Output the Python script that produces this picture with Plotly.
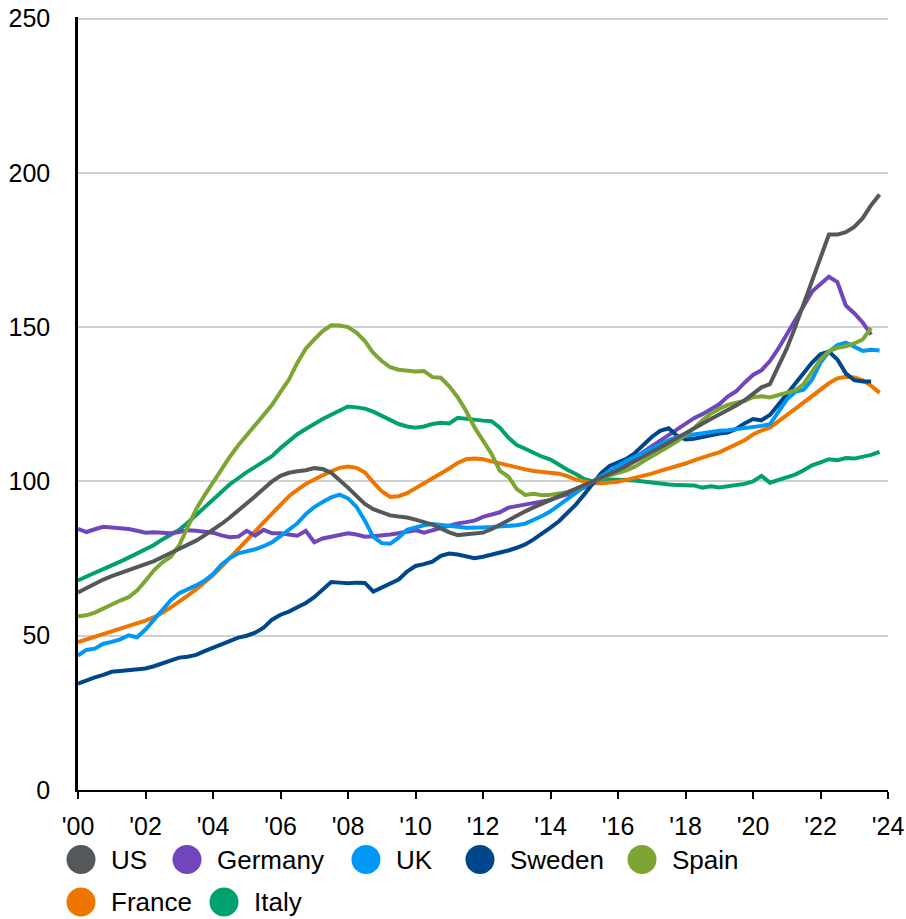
import numpy as np
import plotly.graph_objects as go

# quarterly house price index, 2015 = 100
quarters = 2000 + np.arange(96) * 0.25

us = [64, 65.5, 67, 68.2, 69.3, 70.3, 71.2, 72, 73, 74.2, 75.5, 76.8,
      78, 79.3, 80.8, 82.5, 84.3, 86.2, 88.3, 90.5, 92.8, 95.2, 97.6, 100,
      101.8, 102.8, 103.3, 103.6, 104.3, 104, 102.8, 100.5, 98, 95.3, 92.7, 91,
      90, 89, 88.6, 88.3, 87.6, 86.8, 86, 84.8, 83.5, 82.6, 82.8, 83,
      83.4, 84.5, 86, 87.4, 89, 90.3, 91.6, 92.8, 94, 95.3, 96.5, 97.6,
      98.8, 100, 101, 102.3, 103.6, 105, 106.4, 108, 109.5, 111, 112.6, 114.2,
      115.8, 117.3, 118.7, 120.2, 121.6, 123.1, 124.6, 126.3, 128.3, 130.5, 131.5, 137,
      143, 150, 157.5, 165, 173, 180, 180, 180.8, 182.5, 185.3, 189.5, 193]

germany = [84.6, 83.6, 84.5, 85.3, 85.1, 84.9, 84.6, 84, 83.4, 83.5, 83.3, 83.2,
           83.6, 84.2, 84, 83.6, 83.4, 82.5, 81.9, 82.1, 84, 82.4, 84.3, 83.2,
           83.2, 82.8, 82.4, 84, 80.3, 81.5, 82, 82.4, 83.2, 82.8, 82.1, 82.2,
           82.4, 82.8, 83.2, 83.8, 84.2, 83.4, 84.2, 84.8, 85.6, 86.4, 86.8, 87.3,
           88.5, 89.2, 90, 91.5, 92, 92.4, 93, 93.5, 94, 95, 95.8, 96.7,
           98, 99.6, 101, 103.2, 104.7, 106.3, 107.6, 109.6, 111.6, 113.2, 115, 116.9,
           118.5, 120.5, 121.8, 123.4, 125, 127.5, 129.2, 132, 134.5, 136, 139, 143,
           147.5, 152, 157, 161.5, 164, 166.3, 164.6, 157, 154.5, 151.5, 147.6]

uk = [43.6, 45.4, 45.8, 47.4, 48, 48.8, 50.1, 49.5, 52, 55.3, 58.2, 61.5,
      63.8, 65, 66.3, 67.8, 70, 73, 75.2, 76.7, 77.3, 78, 79, 80.3,
      82.3, 84.2, 86.4, 89.4, 91.7, 93.3, 94.8, 95.7, 94.5, 91.8, 87.3, 82,
      80, 79.8, 81.8, 84.3, 85.2, 85.8, 86.2, 85.8, 85.4, 85.3, 85, 84.9,
      85.1, 85.2, 85.3, 85.5, 85.8, 86.3, 87.4, 88.8, 90.3, 92.2, 94.3, 96.3,
      98.3, 100, 101.6, 103.3, 105, 106.7, 108, 109.4, 110.8, 112.2, 113.3, 114.4,
      114.8, 115.3, 115.8, 116.3, 116.4, 116.6, 116.9, 117.3, 117.8, 118, 118.5, 122.5,
      126.5, 129, 129.7, 133, 138.5, 142, 144.2, 145, 143.5, 142.3, 142.7, 142.4]

sweden = [34.5, 35.6, 36.5, 37.3, 38.3, 38.6, 38.8, 39, 39.4, 40.1, 41, 42.2,
          42.9, 43.2, 43.8, 45, 46.1, 47.3, 48.2, 49.4, 50, 51, 52.6, 55.2,
          56.8, 57.8, 59.2, 60.6, 62.5, 64.8, 67.4, 67.2, 67, 67.2, 67.1, 64.3,
          65.6, 66.7, 68.2, 70.8, 72.6, 73.2, 74, 75.9, 76.6, 76.3, 75.8, 75.1,
          75.6, 76.2, 76.9, 77.6, 78.5, 79.6, 81.2, 83, 85, 87.1, 89.6, 92.5,
          95.8, 99.5, 102.7, 105, 106.2, 107.3, 109.2, 111.8, 114.4, 116.4, 117.2, 114.8,
          113.6, 113.8, 114.4, 115.2, 115.5, 115.8, 117, 118.8, 120.2, 119.8, 121.5, 124.8,
          128.2, 131.8, 135.3, 138.5, 141.2, 142.1, 139.5, 135, 132.8, 132.4, 132.4]

spain = [56.3, 56.6, 57.5, 58.9, 60.2, 61.4, 62.5, 64.6, 67.8, 71.2, 73.8, 75.6,
         79.3, 85.5, 91, 95.5, 99.8, 104, 108, 111.7, 115, 118, 121.5, 124.8,
         129, 133, 138.5, 143, 146, 148.7, 150.6, 150.5, 150, 148.2, 145.5, 141.6,
         139, 137, 136.2, 135.8, 135.6, 135.8, 133.8, 133.6, 130.8, 127.3, 122.8, 117.5,
         113.5, 109, 103.4, 101.6, 97.5, 95.6, 96, 95.5, 95.7, 96, 96.5, 97.5,
         98.8, 100, 101, 102, 102.8, 103.6, 104.8, 106.5, 108, 109.5, 111.3, 113,
         115, 117.2, 119.8, 122, 123.5, 124.8, 125.5, 126.1, 127.3, 127.6, 127.2, 128,
         128.6, 129.5, 131.5, 135.5, 139.6, 142.2, 143.3, 143.8, 144.7, 146, 149.7]

france = [47.9, 48.7, 49.6, 50.4, 51.4, 52.3, 53.1, 53.9, 54.9, 56, 57.4, 59.2,
          61.3, 63, 65, 67.2, 69.6, 72.3, 75.1, 78, 80.8, 83.8, 86.7, 89.6,
          92.5, 95.2, 97.3, 99.2, 100.6, 102, 103.3, 104.4, 104.8, 104.4, 102.9, 99.7,
          96.8, 95, 95.2, 96.2, 97.8, 99.5, 100.8, 102.5, 104.2, 106, 107.2, 107.4,
          107.2, 106.5, 105.8, 105, 104.4, 103.9, 103.4, 103.2, 103, 102.5, 101.7, 100.6,
          100, 99.4, 99.4, 99.5, 99.9, 100.5, 101.1, 101.8, 102.5, 103.4, 104.2, 104.8,
          105.8, 106.8, 107.8, 108.6, 109.4, 110.7, 112, 113.3, 115.2, 116.5, 117.4, 119.6,
          121.5, 123.5, 125.6, 127.8, 129.8, 131.8, 133.4, 133.9, 133.7, 132.8, 131, 128.7]

italy = [67.9, 69.3, 70.4, 71.6, 72.7, 74, 75.3, 76.6, 78, 79.4, 81.2, 82.6,
         84.3, 86.6, 89, 91.5, 94.2, 96.6, 99.1, 101.2, 103, 104.7, 106.3, 108.2,
         110.8, 113, 115.3, 117, 118.7, 120.2, 121.6, 123, 124.3, 124, 123.6, 122.6,
         121.3, 120, 118.6, 117.8, 117.4, 117.8, 118.6, 119, 118.8, 120.6, 120.2, 119.8,
         119.7, 119.5, 117.4, 114.2, 111.8, 110.6, 109.3, 108, 107.1, 105.3, 103.8, 102.4,
         100.8, 100, 100.4, 100.5, 100.5, 100.5, 100.3, 100, 99.6, 99.2, 99, 98.8,
         98.9, 98.7, 98, 98.4, 98, 98.3, 98.6, 99.2, 100, 101.8, 99.6, 100.5,
         101.4, 102.2, 103.6, 105.2, 106.2, 107.2, 106.9, 107.6, 107.4, 107.9, 108.6, 109.6]

names = ["US", "Germany", "UK", "Sweden", "Spain", "France", "Italy"]
series = [us, germany, uk, sweden, spain, france, italy]
colors = ["#54585b", "#7146bc", "#0098f5", "#00468b", "#7ca532", "#ee7600", "#00a06f"]
draw_order = ["Italy", "France", "Germany", "Sweden", "UK", "Spain", "US"]

tick_years = list(range(2000, 2025, 2))
tick_text = ["'%02d" % (y % 100) for y in tick_years]

FONT = "Liberation Sans, Arial, sans-serif"

fig = go.Figure()
for name in draw_order:
    i = names.index(name)
    vals = series[i]
    fig.add_trace(go.Scatter(
        x=quarters[:len(vals)], y=vals, mode="lines", name=name,
        line=dict(color=colors[i], width=4), showlegend=False))

# legend drawn by hand: big round swatches in two rows
# (positions in pixels, relative to the 810x773 plot area at 78,17)
legend_rows = [[0, 1, 2, 3, 4], [5, 6]]
legend_px = [[81, 187, 366, 480, 642], [81, 224]]
legend_py = [859.5, 902]
for row, xs, py in zip(legend_rows, legend_px, legend_py):
    yp = (790 - py) / 773
    for i, px in zip(row, xs):
        xp = (px - 78) / 810
        fig.add_shape(type="circle", xref="paper", yref="paper",
                      xsizemode="pixel", ysizemode="pixel",
                      xanchor=xp, yanchor=yp, x0=-14.5, x1=14.5, y0=-14.5, y1=14.5,
                      fillcolor=colors[i], line=dict(width=0))
        fig.add_annotation(text=names[i], xref="paper", yref="paper",
                           x=(px + 28 - 78) / 810, y=yp, xanchor="left", yanchor="middle",
                           showarrow=False, font=dict(size=26, color="#000", family=FONT))

fig.update_layout(
    width=906, height=919,
    margin=dict(l=78, r=18, t=17, b=129, autoexpand=False),
    paper_bgcolor="white", plot_bgcolor="white",
    font=dict(family=FONT, size=25, color="#000"),
    showlegend=False,
)
fig.update_xaxes(
    range=[2000, 2024], tickvals=tick_years, ticktext=tick_text,
    showgrid=False, zeroline=False, automargin=False,
    showline=True, linecolor="#000", linewidth=2,
    ticks="outside", ticklen=7, tickwidth=2, tickcolor="#000",
    ticklabelstandoff=6, ticklabeloverflow="allow",
)
fig.update_yaxes(
    range=[0, 250.5], tickvals=[0, 50, 100, 150, 200, 250], automargin=False,
    showgrid=True, gridcolor="#d0d0d0", gridwidth=1.5,
    zeroline=False, showline=True, linecolor="#000", linewidth=2.5,
    ticks="", ticklabelstandoff=20, ticklabeloverflow="allow",
)

# drop the default 8px page margin so the figure fills the window exactly
fig.write_html("out.html", config={"displayModeBar": False},
               post_script="document.body.style.margin='0';")
